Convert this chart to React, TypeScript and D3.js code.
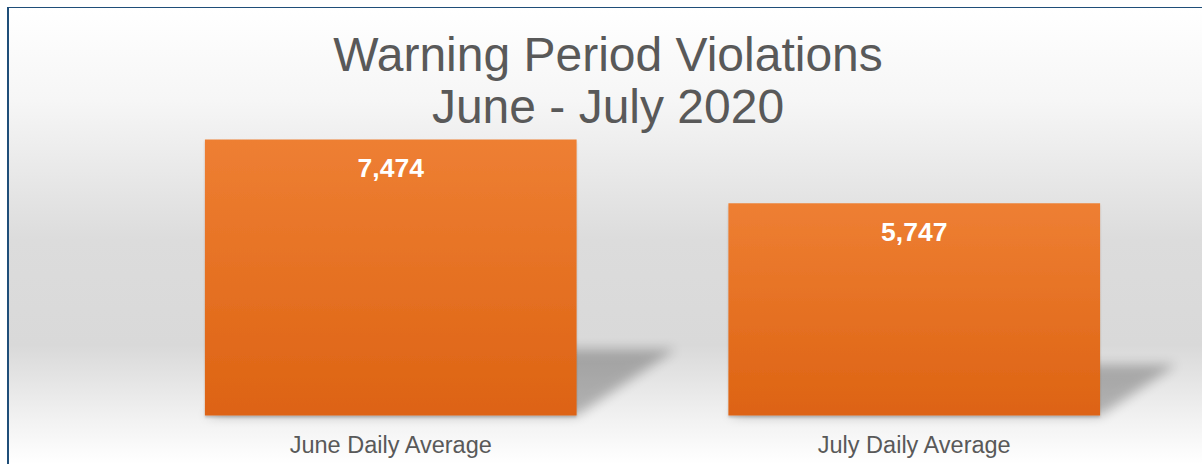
import React from "react";
import * as d3 from "d3";

const categories: string[] = ["June Daily Average", "July Daily Average"];
const values: number[] = [7474, 5747];
const titleLines: string[] = ["Warning Period Violations", "June - July 2020"];

const W = 1202;
const H = 464;
const FONT = "'Liberation Sans', Arial, sans-serif";

export default function App() {
  const x = d3
    .scaleBand<string>()
    .domain(categories)
    .range([129, 1176])
    .paddingInner(0.29)
    .paddingOuter(0.145);
  const baseY = 415.5;
  const y = d3.scaleLinear().domain([0, 8000]).range([baseY, baseY - 8000 * 0.036928]);
  const fmt = d3.format(",");

  return (
    <svg
      width={W}
      height={H}
      style={{ position: "absolute", left: 0, top: 0, display: "block" }}
      xmlns="http://www.w3.org/2000/svg"
    >
      <defs>
        <linearGradient id="bg" x1="0" y1="0" x2="0" y2={H} gradientUnits="userSpaceOnUse">
          <stop offset={8 / H} stopColor="#ffffff" />
          <stop offset={100 / H} stopColor="#f6f6f6" />
          <stop offset={240 / H} stopColor="#dcdcdc" />
          <stop offset={345 / H} stopColor="#d9d9d9" />
          <stop offset={420 / H} stopColor="#f2f2f2" />
          <stop offset={1} stopColor="#ffffff" />
        </linearGradient>
        <linearGradient id="barGrad" x1="0" y1="0" x2="0" y2="1">
          <stop offset="0" stopColor="#ee7f33" />
          <stop offset="1" stopColor="#dd6313" />
        </linearGradient>
        <filter id="blur" x="-20%" y="-50%" width="140%" height="200%">
          <feGaussianBlur stdDeviation="6" />
        </filter>
        <filter id="drop" x="-5%" y="-5%" width="110%" height="115%">
          <feDropShadow dx="0" dy="2" stdDeviation="1.2" floodColor="#000" floodOpacity="0.18" />
        </filter>
      </defs>

      <rect x={0} y={0} width={W} height={H} fill="#ffffff" />
      <rect x={8} y={7} width={W - 8} height={H - 7} fill="url(#bg)" />
      <rect x={7} y={7} width={W - 7} height={1} fill="#1f4e79" />
      <rect x={7} y={7} width={2} height={H - 7} fill="#1f4e79" />

      {categories.map((c, i) => {
        const x0 = x(c)!;
        const x1 = x0 + x.bandwidth();
        const top = y(values[i]);
        const h = baseY - top;
        const dx = 0.36 * h;
        const dy = 0.24 * h;
        const pts = [
          [x0, baseY],
          [x1, baseY],
          [x1 + dx, baseY - dy],
          [x0 + dx, baseY - dy],
        ];
        return (
          <polygon
            key={"s" + i}
            points={pts.map((p) => p.join(",")).join(" ")}
            fill="#000"
            opacity={0.26}
            filter="url(#blur)"
          />
        );
      })}

      {categories.map((c, i) => {
        const x0 = x(c)!;
        const top = y(values[i]);
        return (
          <g key={"b" + i}>
            <rect
              x={x0}
              y={top}
              width={x.bandwidth()}
              height={baseY - top}
              fill="url(#barGrad)"
              filter="url(#drop)"
            />
            <text
              x={x0 + x.bandwidth() / 2}
              y={top + 37.5}
              textAnchor="middle"
              fill="#ffffff"
              fontFamily={FONT}
              fontWeight="bold"
              fontSize={26.5}
            >
              {fmt(values[i])}
            </text>
            <text
              x={x0 + x.bandwidth() / 2}
              y={453}
              textAnchor="middle"
              fill="#595959"
              fontFamily={FONT}
              fontSize={23.5}
            >
              {c}
            </text>
          </g>
        );
      })}

      {titleLines.map((t, i) => (
        <text
          key={"t" + i}
          x={608}
          y={71 + i * 52}
          textAnchor="middle"
          fill="#595959"
          fontFamily={FONT}
          fontSize={48}
        >
          {t}
        </text>
      ))}
    </svg>
  );
}
